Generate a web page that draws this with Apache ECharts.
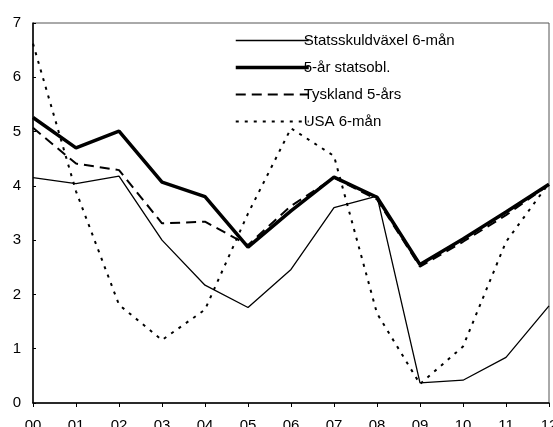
<!DOCTYPE html>
<html><head><meta charset="utf-8">
<script src="https://cdn.jsdelivr.net/npm/echarts@6/dist/echarts.min.js"></script>
<style>html,body{margin:0;padding:0;background:#fff}#c{width:553px;height:427px}</style>
</head><body><div id="c"></div>
<script>
const categories = ['00','01','02','03','04','05','06','07','08','09','10','11','12'];
const statsskuldvaxel = [4.15,4.04,4.18,3.00,2.17,1.76,2.46,3.60,3.81,0.37,0.42,0.84,1.79];
const statsobl5 = [5.26,4.70,5.01,4.07,3.80,2.87,3.54,4.16,3.79,2.55,3.02,3.52,4.03];
const tyskland5 = [5.07,4.41,4.29,3.31,3.34,2.91,3.63,4.15,3.75,2.51,2.97,3.46,4.02];
const usa6 = [6.62,3.90,1.81,1.16,1.72,3.49,5.06,4.55,1.65,0.35,1.04,2.97,4.05];
const names = ['Statsskuldväxel 6-mån','5-år statsobl.','Tyskland 5-års','USA 6-mån'];
const widths = [1.3, 3.5, 2, 2];
const types = ['solid','solid',[10,6],[3,6]];
const font = 'Liberation Sans, Arial, sans-serif';
const chart = echarts.init(document.getElementById('c'));
function s(i, data){
  return {name:names[i], type:'line', data, symbol:'none', smooth:false,
    lineStyle:{color:'#000', width:widths[i], type:types[i]}, itemStyle:{color:'#000'}, animation:false};
}
chart.setOption({
  animation:false,
  grid:{left:33, right:4, top:23, bottom:24, show:true, borderColor:'#555', borderWidth:1,
    outerBoundsMode:'none', containLabel:false},
  legend:{orient:'vertical', left:229, top:28, itemWidth:73, itemHeight:14, itemGap:12,
    data:names.map((n,i)=>({name:n,
      lineStyle:{color:'#000', width:widths[i], type:types[i]},
      itemStyle:{color:'rgba(0,0,0,0)', borderWidth:0, opacity:0}})),
    textStyle:{fontFamily:font, fontSize:15, color:'#000', padding:[0,0,0,-10]}},
  xAxis:{type:'category', data:categories, boundaryGap:false,
    axisLine:{lineStyle:{color:'#000', width:1.5}},
    axisTick:{show:true, length:4, inside:false, lineStyle:{color:'#000'}},
    axisLabel:{fontFamily:font, fontSize:15, color:'#000', margin:15}},
  yAxis:{type:'value', min:0, max:7, interval:1,
    axisLine:{show:true, lineStyle:{color:'#000', width:1.5}},
    axisTick:{show:true, length:3, inside:true, lineStyle:{color:'#000'}},
    splitLine:{show:false},
    axisLabel:{fontFamily:font, fontSize:15, color:'#000', margin:12}},
  series:[
    s(0, statsskuldvaxel),
    s(1, statsobl5),
    s(2, tyskland5),
    s(3, usa6)
  ]
});
</script></body></html>
